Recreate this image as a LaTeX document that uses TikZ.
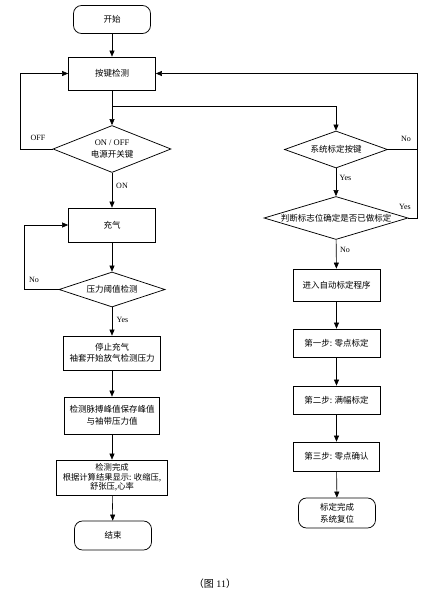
\documentclass[tikz,border=0pt]{standalone}
\usepackage{fontspec}
\setmainfont{Liberation Serif}
\newfontfamily\cjk{Noto Sans CJK SC}
\usetikzlibrary{shapes.geometric,arrows.meta}
\tikzset{
  box/.style={draw, line width=0.75pt, inner sep=1pt, align=center,
    font=\cjk\fontsize{8.5}{11.5}\selectfont},
  term/.style={box, rounded corners=8pt},
  dia/.style={draw, diamond, line width=0.75pt, inner sep=0pt, align=center,
    font=\cjk\fontsize{8.5}{11.5}\selectfont},
  lab/.style={font=\fontsize{8}{9}\selectfont, inner sep=0pt},
  arr/.style={-{Triangle[length=6pt,width=5pt]}, line width=0.6pt},
  ln/.style={line width=0.6pt}
}
\begin{document}
\begin{tikzpicture}[x=1pt,y=-1pt]
\useasboundingbox[fill=white] (0,0) rectangle (438,604);
% left column
\node[term, minimum width=77pt, minimum height=28pt] (start) at (112,19.5) {开始};
\node[box, minimum width=87pt, minimum height=33pt] (key) at (112,73.5) {按键检测};
\node[dia, aspect=2.5, minimum width=118pt, minimum height=47pt] (onoff) at (112,149)
  {{\rmfamily ON / OFF}\\电源开关键};
\node[box, minimum width=87pt, minimum height=34pt] (charge) at (112,225) {充气};
\node[dia, aspect=3, minimum width=106pt, minimum height=35pt] (press) at (112,289.5) {压力阈值检测};
\node[box, minimum width=97pt, minimum height=34pt] (stop) at (112,353) {停止充气\\袖套开始放气检测压力};
\node[box, minimum width=95pt, minimum height=37pt] (detect) at (112,415.5) {检测脉搏峰值保存峰值\\与袖带压力值};
\node[box, minimum width=111pt, minimum height=35pt, inner sep=0pt,
  font=\cjk\fontsize{8.3}{9.6}\selectfont] (done) at (112,477.5)
  {检测完成\\根据计算结果显示: 收缩压,\\舒张压,心率};
\node[term, minimum width=77pt, minimum height=29pt] (end) at (113,535.5) {结束};
% right column
\node[dia, aspect=2.8, minimum width=103pt, minimum height=37pt] (sys) at (336,149.5) {系统标定按键};
\node[dia, aspect=3.3, minimum width=144pt, minimum height=43pt] (judge) at (336,218)
  {\makebox[0pt]{判断标志位确定是否已做标定}};
\node[box, minimum width=87pt, minimum height=32pt] (auto) at (336.5,285) {进入自动标定程序};
\node[box, minimum width=87pt, minimum height=28pt] (s1) at (336.5,343) {第一步: 零点标定};
\node[box, minimum width=87pt, minimum height=28pt] (s2) at (336.5,400) {第二步: 满幅标定};
\node[box, minimum width=86pt, minimum height=29pt] (s3) at (336.5,456.5) {第三步: 零点确认};
\node[term, minimum width=77pt, minimum height=30pt] (fin) at (337,513) {标定完成\\系统复位};
% caption
\node[font=\fontsize{10}{11}\selectfont] (cap) at (215,584) {{\cjk （图} 11{\cjk ）}};
% labels
\node[lab] (loff) at (38,138) {OFF};
\node[lab] (lon) at (122,186) {ON};
\node[lab] (lno1) at (34,280) {No};
\node[lab] (lyes1) at (122.5,320) {Yes};
\node[lab] (lno2) at (406,139) {No};
\node[lab] (lyes2) at (345.5,178) {Yes};
\node[lab] (lyes3) at (405,207) {Yes};
\node[lab] (lno3) at (345,250) {No};
% coordinates
\coordinate (br) at (112,106);
\coordinate (offc) at (20,149);
\coordinate (noc) at (24,289.5);
\coordinate (rt) at (417,73.5);
% connectors
\draw[arr] (start) -- (key);
\draw[arr] (key) -- (onoff);
\draw[arr] (br) -| (sys.north);
\draw[arr] (onoff.west) -- (offc) |- (key.west);
\draw[arr] (onoff) -- (charge);
\draw[arr] (charge) -- (press);
\draw[arr] (press.west) -- (noc) |- (charge.west);
\draw[arr] (press) -- (stop);
\draw[arr] (stop) -- (detect);
\draw[arr] (detect) -- (done);
\draw[arr] (done) -- (end);
\draw[arr] (sys) -- (judge);
\draw[ln] (sys.east) -- (sys.east -| rt);
\draw[arr] (judge.east) -| (rt) -- (key.east);
\draw[arr] (judge) -- (auto);
\draw[arr] (auto) -- (s1);
\draw[arr] (s1) -- (s2);
\draw[arr] (s2) -- (s3);
\draw[arr] (s3) -- (fin);
\end{tikzpicture}
\end{document}
